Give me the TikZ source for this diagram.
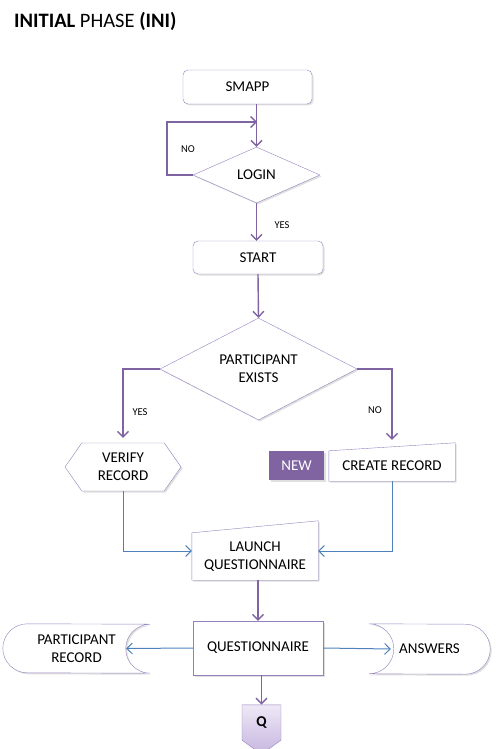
\documentclass[tikz,border=0pt]{standalone}
\usepackage{fontspec}
\setmainfont{Carlito}
\usetikzlibrary{shapes.geometric,shapes.symbols,arrows.meta,shadows,backgrounds}
\definecolor{flowpurple}{HTML}{8064A2}
\definecolor{boxline}{HTML}{9580BE}
\definecolor{flowblue}{HTML}{4F81BD}
\definecolor{qtop}{HTML}{EEE8F6}
\definecolor{qbottom}{HTML}{C6B5DF}
\tikzset{
  base/.style={font=\fontsize{15}{18}\selectfont, align=center, inner sep=0pt},
  shade/.style={drop shadow={shadow xshift=1.5pt, shadow yshift=-1.5pt, opacity=.25}},
  roundbox/.style={base, shade, draw=boxline, fill=white, rounded corners=5pt,
    minimum width=129pt, minimum height=34pt},
  plainbox/.style={base, shade, draw=boxline, fill=white, minimum width=130pt, minimum height=54pt},
  decision/.style={base, shade, draw=boxline, fill=white, diamond, aspect=2},
  prepbox/.style={base, shade, draw=boxline, fill=white, signal, signal to=east and west,
    signal pointer angle=110, minimum width=116pt, minimum height=48pt},
  offpage/.style={base, draw=boxline, signal, signal to=south, signal pointer angle=108,
    minimum width=39pt, minimum height=39pt, top color=qtop, bottom color=qbottom,
    font=\fontsize{15}{18}\selectfont\bfseries},
  newtag/.style={base, shade, fill=flowpurple, text=white, minimum width=55pt, minimum height=29pt},
  boxoutline/.style={draw=boxline, fill=white, shade},
  answer/.style={font=\fontsize{10.5}{12}\selectfont, inner sep=0pt},
  flow/.style={draw=flowpurple, line width=1.4pt, -{Straight Barb[length=5.5pt,width=11pt]}},
  link/.style={draw=flowblue, line width=1pt, -{Straight Barb[length=5.5pt,width=11pt]}}
}
\begin{document}
\begin{tikzpicture}[x=1pt, y=-1pt]
\useasboundingbox (0,0) rectangle (499,749);
\node[anchor=base west, inner sep=0pt, font=\fontsize{20.5}{24}\selectfont] (title) at (14,28)
  {\textbf{INITIAL} PHASE \textbf{(INI)}};
% main column
\node[roundbox] (smapp) at (247.5,87) {SMAPP};
\node[decision, minimum width=127pt, minimum height=56pt] (login) at (256.5,175) {LOGIN};
\node[roundbox, minimum width=130pt, minimum height=33pt] (start) at (258,257.5) {START};
\node[decision, minimum width=197pt, minimum height=102pt] (pe) at (258.5,369) {PARTICIPANT\\EXISTS};
\node[prepbox] (verify) at (123,467) {VERIFY\\RECORD};
\node[newtag] (new) at (296.5,465.5) {NEW};
\node[base, minimum width=126pt, minimum height=30pt] (create) at (392,466) {CREATE RECORD};
\node[base, minimum width=126pt, minimum height=47pt] (launch) at (255,556.5) {LAUNCH\\QUESTIONNAIRE};
\node[plainbox] (qn) at (258,648) {QUESTIONNAIRE};
\node[base, minimum width=147pt, minimum height=49pt] (prec) at (76.5,648.5) {PARTICIPANT\\RECORD};
\node[base, minimum width=121pt, minimum height=50pt] (ans) at (429.5,649) {ANSWERS};
\node[offpage] (q) at (261.5,722.5) {Q};
% outlines behind the text
\begin{scope}[on background layer]
\draw[boxoutline] (launch.south west) -- (launch.north west) -- ([yshift=12pt]launch.north east)
  -- (launch.south east) -- cycle;
\draw[boxoutline] (create.south west) -- (create.north west) -- ([yshift=8pt]create.north east)
  -- (create.south east) -- cycle;
\draw[boxoutline] ([xshift=24.5pt]prec.north west) arc[start angle=90, end angle=270, radius=24.5pt]
  -- (prec.south east) arc[start angle=270, end angle=90, radius=24.5pt] -- cycle;
\draw[boxoutline] (ans.north west) arc[start angle=90, end angle=-90, radius=25pt]
  -- ([xshift=-25pt]ans.south east) arc[start angle=-90, end angle=90, radius=25pt] -- cycle;
\end{scope}
% labels
\node[answer] (nologin) at (188,149) {NO};
\node[answer] (yeslogin) at (282,225) {YES};
\node[answer] (yespe) at (140,412) {YES};
\node[answer] (nope) at (375,410) {NO};
% connectors
\coordinate (loopin) at (257,122);
\draw[flow] (smapp.south -| login.north) -- (login.north);
\draw[flow] (login.west) -- ++(-26,0) |- (loopin);
\draw[flow] (login.south) -- (login.south |- start.north);
\draw[flow] (start.south) -- (pe.north);
\draw[flow, shorten >=5pt] (pe.west) -| (verify.north);
\draw[flow] (pe.east) -| ([yshift=11pt]create.north);
\draw[link] (verify.south) |- ([yshift=5.5pt]launch.west);
\draw[link] (create.south) |- ([yshift=5.5pt]launch.east);
\draw[flow] (launch.south -| qn.north) -- (qn.north);
\draw[link] (qn.west) -- ([xshift=-24pt]prec.east);
\draw[link] (qn.east) -- ([xshift=22pt]ans.west);
\draw[flow] (qn.south -| q.north) -- (q.north);
\end{tikzpicture}
\end{document}
